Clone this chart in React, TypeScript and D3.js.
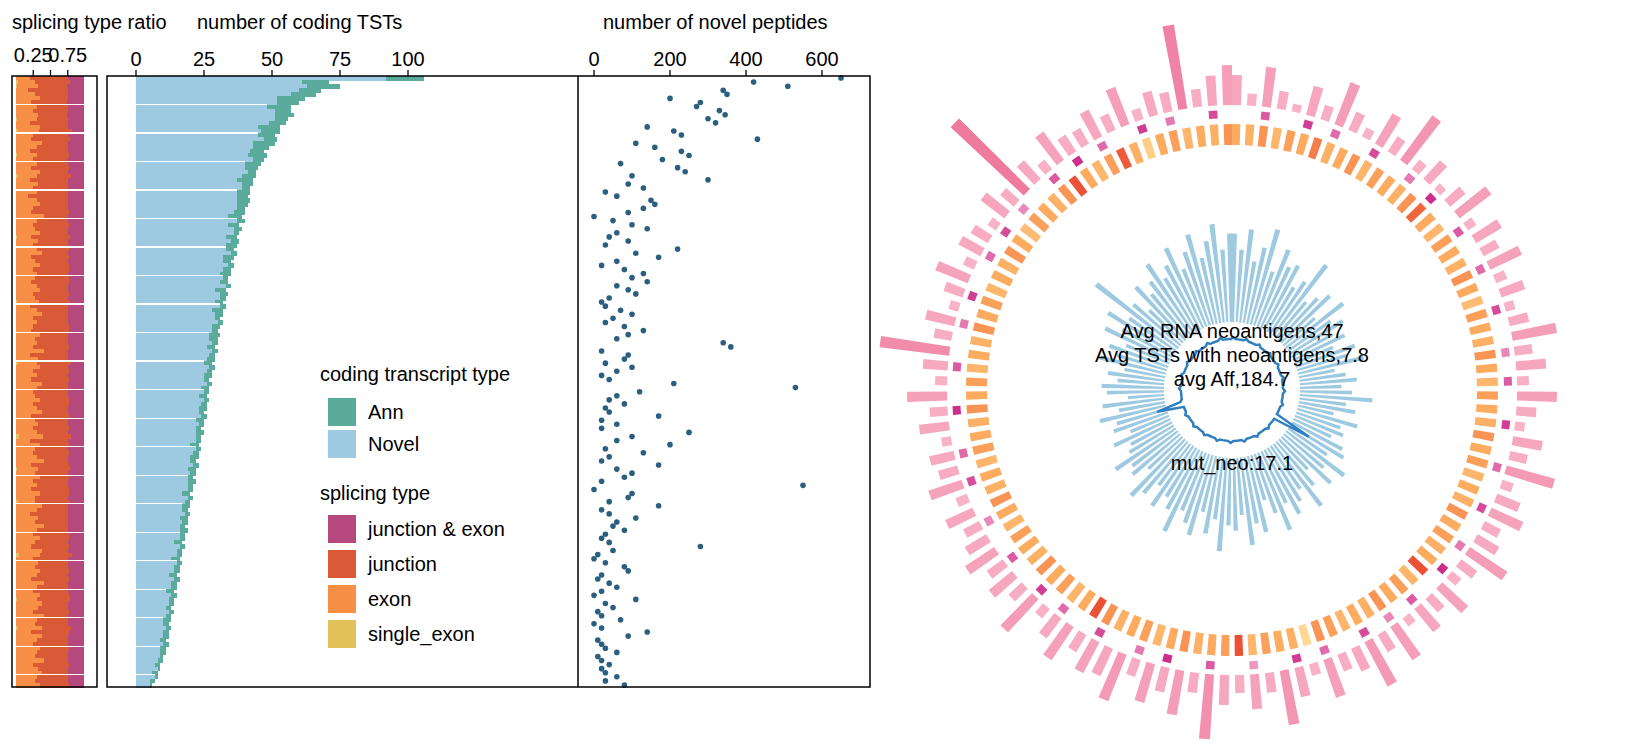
import * as d3 from "d3";

const totals = [
  106, 71, 75, 68, 66, 62, 60, 57, 57, 58,
  56, 55, 53, 53, 51, 52, 51, 49, 47, 48,
  47, 46, 45, 44, 44, 43, 43, 42, 42, 41,
  42, 41, 40, 40, 39, 40, 38, 39, 38, 37,
  38, 37, 36, 37, 36, 35, 36, 35, 35, 34,
  34, 35, 33, 34, 33, 32, 33, 32, 32, 31,
  32, 31, 30, 31, 30, 30, 29, 30, 29, 29,
  28, 29, 28, 28, 27, 28, 27, 27, 26, 27,
  26, 26, 25, 26, 25, 25, 24, 25, 24, 24,
  23, 24, 23, 23, 22, 23, 22, 22, 21, 22,
  21, 21, 20, 21, 20, 20, 19, 20, 19, 19,
  18, 19, 18, 18, 17, 18, 17, 17, 16, 17,
  16, 16, 15, 16, 15, 15, 14, 15, 14, 14,
  13, 14, 13, 13, 12, 13, 12, 12, 11, 12,
  11, 11, 10, 10, 9, 9, 8, 8, 7, 6,
];
const ann = [
  14, 10, 12, 8, 9, 10, 8, 9, 6, 7,
  5, 6, 8, 7, 6, 5, 8, 6, 5, 7,
  4, 6, 5, 3, 5, 6, 4, 3, 5, 4,
  5, 4, 3, 4, 5, 3, 4, 3, 2, 4,
  3, 4, 3, 2, 4, 3, 2, 3, 4, 2,
  3, 2, 4, 3, 2, 3, 2, 4, 3, 2,
  2, 3, 2, 4, 3, 2, 3, 2, 2, 3,
  3, 2, 2, 3, 2, 2, 3, 2, 3, 2,
  2, 3, 2, 2, 3, 2, 2, 3, 2, 2,
  3, 2, 2, 3, 2, 2, 3, 2, 2, 3,
  2, 2, 3, 2, 2, 3, 2, 2, 3, 2,
  2, 3, 2, 2, 3, 2, 2, 2, 3, 2,
  2, 2, 3, 2, 2, 2, 3, 2, 2, 2,
  2, 2, 2, 3, 2, 2, 2, 2, 2, 2,
  2, 2, 1, 2, 2, 1, 2, 1, 2, 1,
];
const peptides = [
  650, 420, 510, 340, 350, 200, 280, 270, 330, 345,
  300, 320, 140, 210, 230, 430, 110, 160, 230, 250,
  180, 70, 220, 240, 100, 300, 90, 130, 30, 60,
  150, 160, 130, 90, 0, 50, 100, 140, 60, 40,
  90, 30, 220, 110, 170, 60, 20, 80, 130, 100,
  140, 60, 90, 110, 40, 20, 30, 70, 100, 50,
  30, 80, 130, 90, 60, 340, 360, 20, 90, 80,
  30, 100, 60, 20, 40, 210, 530, 120, 60, 40,
  80, 30, 40, 170, 20, 60, 20, 250, 100, 60,
  200, 30, 130, 40, 20, 170, 60, 100, 80, 20,
  550, 0, 100, 90, 40, 170, 20, 40, 110, 60,
  50, 80, 30, 20, 40, 280, 50, 10, 0, 30,
  80, 90, 20, 10, 40, 60, 20, 0, 110, 30,
  50, 10, 20, 70, 0, 20, 140, 90, 10, 20,
  30, 60, 10, 20, 40, 20, 30, 60, 30, 80,
];
const exonRatio = [
  .2, .25, .3, .18, .28, .35, .22, .3, .25, .32,
  .28, .2, .35, .3, .25, .22, .38, .3, .2, .28,
  .25, .3, .22, .35, .28, .2, .32, .25, .3, .18,
  .3, .35, .25, .22, .4, .3, .25, .28, .35, .2,
  .32, .25, .3, .38, .22, .28, .35, .25, .3, .27,
  .22, .3, .35, .25, .28, .32, .2, .3, .38, .25,
  .3, .25, .22, .35, .28, .3, .25, .4, .2, .32,
  .28, .35, .25, .3, .22, .38, .3, .25, .28, .35,
  .25, .3, .38, .22, .28, .32, .25, .3, .35, .2,
  .35, .28, .25, .3, .4, .22, .3, .28, .35, .25,
  .3, .22, .35, .28, .25, .38, .3, .2, .32, .28,
  .4, .3, .25, .35, .28, .22, .38, .3, .25, .32,
  .28, .35, .3, .22, .4, .3, .25, .35, .28, .38,
  .32, .25, .4, .3, .28, .35, .22, .38, .3, .25,
  .35, .3, .28, .4, .25, .32, .38, .3, .28, .35,
];
const junctionRatio = [
  .55, .5, .42, .58, .48, .4, .52, .45, .5, .42,
  .45, .55, .4, .48, .5, .56, .38, .45, .55, .47,
  .5, .45, .55, .4, .48, .56, .44, .5, .46, .58,
  .46, .4, .5, .55, .36, .46, .52, .48, .4, .56,
  .44, .5, .47, .38, .55, .48, .42, .52, .46, .5,
  .55, .46, .4, .52, .48, .44, .56, .46, .38, .5,
  .46, .52, .55, .4, .48, .46, .52, .36, .56, .44,
  .48, .4, .52, .46, .55, .38, .46, .5, .48, .42,
  .52, .46, .38, .55, .48, .44, .52, .46, .4, .56,
  .42, .48, .52, .46, .36, .55, .46, .48, .42, .5,
  .46, .55, .42, .48, .5, .38, .46, .56, .44, .48,
  .36, .46, .52, .42, .48, .55, .38, .46, .5, .44,
  .48, .42, .46, .55, .36, .46, .5, .42, .48, .38,
  .44, .52, .36, .46, .48, .42, .55, .38, .46, .5,
  .42, .46, .48, .36, .52, .44, .38, .46, .48, .42,
];
const singleExon: [number, number][] = [
  [1, 0.03], [2, 0.02], [10, 0.02], [13, 0.03], [19, 0.02], [24, 0.03],
  [39, 0.02], [55, 0.02], [70, 0.03], [88, 0.04], [96, 0.02], [104, 0.03],
  [117, 0.05], [128, 0.02], [135, 0.03],
];

const blueLens = [
  85, 70, 90, 60, 75, 95, 55, 80, 65, 70,
  50, 60, 85, 45, 55, 65, 40, 70, 50, 60,
  45, 55, 40, 60, 50, 65, 35, 45, 55, 40,
  50, 70, 45, 55, 35, 60, 45, 50, 40, 55,
  60, 45, 70, 50, 65, 40, 55, 75, 50, 60,
  70, 55, 80, 60, 45, 75, 65, 85, 55, 70,
  65, 90, 60, 75, 55, 80, 70, 60, 85, 65,
  55, 70, 50, 65, 75, 45, 60, 55, 70, 50,
  45, 60, 40, 55, 50, 65, 45, 60, 35, 55,
  60, 45, 55, 40, 65, 50, 60, 45, 70, 55,
  75, 55, 100, 60, 45, 70, 55, 65, 80, 60,
  70, 85, 60, 75, 90, 65, 80, 95, 70, 85,
];
const orangeVals = [
  .5, .45, .6, .4, .55, .5, .7, .45, .5, .6,
  .4, .55, .5, .45, .6, .8, .5, .4, .55, .5,
  .45, .6, .5, .35, .55, .5, .45, .6, .5, .4,
  .55, .5, .45, .6, .5, .55, .4, .5, .45, .6,
  .5, .55, .45, .5, .9, .4, .55, .5, .6, .45,
  .5, .4, .55, .6, .1, .45, .5, .55, .4, .9,
  .55, .5, .45, .6, .5, .4, .55, .5, .45, .6,
  .9, .5, .4, .55, .5, .6, .45, .5, .55, .4,
  .5, .6, .45, .5, .4, .55, .5, .45, .6, .5,
  .55, .4, .5, .45, .6, .5, .55, .4, .5, .45,
  .6, .5, .35, .55, .5, .45, .6, .9, .5, .4,
  .55, .85, .45, .2, .5, .55, .4, .5, .45, .6,
];
const magentaVals = [
  0, 0, .6, 0, 0, .8, 0, .5, 0, 0,
  .7, 0, 0, .4, 0, .9, 0, 0, .6, 0,
  0, .5, 0, 0, .7, 0, 0, .3, 0, .6,
  0, 0, .8, 0, 0, .5, 0, 0, .7, 0,
  0, .4, 0, .9, 0, 0, .6, 0, .3, 0,
  .7, 0, 0, .5, 0, .8, 0, 0, .2, 0,
  0, .6, 0, 0, .9, 0, .4, 0, 0, .7,
  0, 0, .5, 0, .8, 0, 0, .6, 0, 0,
  .3, 0, 0, .7, 0, .5, 0, 0, .9, 0,
  0, .6, 0, 0, .4, 0, .8, 0, 0, .5,
  0, .7, 0, .3, 0, 0, .6, 0, .9, 0,
  .5, 0, 0, .8, 0, .4, 0, 0, .7, 0,
];
const pinkLens = [
  30, 12, 40, 18, 8, 30, 15, 45, 20, 10,
  35, 18, 55, 12, 25, 8, 20, 40, 10, 30,
  18, 35, 12, 25, 10, 20, 45, 18, 30, 12,
  40, 20, 10, 30, 18, 50, 12, 25, 35, 18,
  25, 45, 20, 12, 35, 18, 30, 10, 40, 20,
  50, 25, 18, 40, 12, 30, 55, 20, 35, 18,
  30, 65, 20, 45, 25, 40, 18, 50, 30, 35,
  20, 40, 25, 12, 45, 18, 30, 20, 35, 25,
  18, 30, 12, 35, 20, 25, 10, 30, 18, 40,
  12, 25, 70, 18, 30, 10, 20, 35, 12, 25,
  20, 10, 30, 18, 100, 25, 12, 35, 20, 18,
  30, 18, 40, 12, 25, 20, 85, 18, 30, 40,
];

const centerText = ["Avg RNA neoantigens,47", "Avg TSTs with neoantigens,7.8", "avg Aff,184.7"];
const mutText = "mut_neo:17.1";

const C = {
  ann: "#5aab9c", novel: "#9ecae1", je: "#b5487c", junc: "#d95a37",
  exon: "#f79046", single: "#e2c15a", dot: "#2b5f7f",
};
const font = "'Liberation Sans', Arial, sans-serif";

export default function App() {
  const n = totals.length;
  const rows = d3.range(n);
  const top = 76, bottom = 687;
  const y = d3.scaleBand<number>().domain(rows).range([top, bottom]);
  const xr = d3.scaleLinear().domain([0, 1]).range([16, 85]);
  const xc = d3.scaleLinear().domain([0, 100]).range([136, 408]);
  const xp = d3.scaleLinear().domain([0, 600]).range([594, 822]);
  const seps = rows.filter((i) => i > 0 && i % 7 === 0);

  const cx = 1232, cy = 390;
  const m = blueLens.length;
  const ang = d3.scaleBand<number>().domain(d3.range(m)).range([0, 2 * Math.PI]).paddingInner(0.4);
  const arc = d3.arc<any>();
  const seg = (i: number, r0: number, r1: number) =>
    arc({ innerRadius: r0, outerRadius: r1, startAngle: ang(i)!, endAngle: ang(i)! + ang.bandwidth() }) || "";
  const blueR = d3.scaleLinear().domain([0, 100]).range([68, 172]);
  const pinkR = d3.scaleLinear().domain([0, 100]).range([285, 385]);
  const orangeC = d3.scaleLinear<string>().domain([0, 0.5, 1]).range(["#fee3a0", "#fdab5f", "#e8392a"]);
  const pinkC = d3.scaleLinear<string>().domain([0, 100]).range(["#f9b9ca", "#ee7a9e"]);
  const magC = d3.scaleLinear<string>().domain([0, 1]).range(["#f6b6cf", "#c81f84"]);

  // inner dark-blue radial line
  const lineVals = d3.range(m).map((i) => (i === 40 ? 40 : i === 84 ? 28 : (i % 5 === 0 ? 3 : 1)));
  const radial = d3.lineRadial<number>()
    .angle((_, i) => ang(i)! + ang.bandwidth() / 2)
    .radius((v) => 50 + v)
    .curve(d3.curveLinearClosed);

  const legendT = [
    { label: "Ann", c: C.ann, y: 398 },
    { label: "Novel", c: C.novel, y: 430 },
  ];
  const legendS = [
    { label: "junction & exon", c: C.je, y: 515 },
    { label: "junction", c: C.junc, y: 550 },
    { label: "exon", c: C.exon, y: 585 },
    { label: "single_exon", c: C.single, y: 620 },
  ];

  return (
    <svg width={1633} height={755} style={{ fontFamily: font, position: "absolute", left: 0, top: 0 }}>
      <g shapeRendering="crispEdges">
        {rows.map((i) => {
          const s = singleExon.find((d) => d[0] === i)?.[1] ?? 0;
          const e = exonRatio[i], j = junctionRatio[i];
          const je = Math.max(0, 0.985 - s - e - j);
          const h = y.bandwidth() + 0.5;
          return (
            <g key={i}>
              <rect x={xr(0)} y={y(i)} width={xr(s) - xr(0)} height={h} fill={C.single} />
              <rect x={xr(s)} y={y(i)} width={xr(s + e) - xr(s)} height={h} fill={C.exon} />
              <rect x={xr(s + e)} y={y(i)} width={xr(s + e + j) - xr(s + e)} height={h} fill={C.junc} />
              <rect x={xr(s + e + j)} y={y(i)} width={xr(s + e + j + je) - xr(s + e + j)} height={h} fill={C.je} />
            </g>
          );
        })}
        {rows.map((i) => {
          const nv = totals[i] - ann[i];
          const h = y.bandwidth() + 0.5;
          return (
            <g key={i}>
              <rect x={xc(0)} y={y(i)} width={xc(nv) - xc(0)} height={h} fill={C.novel} />
              <rect x={xc(nv)} y={y(i)} width={xc(totals[i]) - xc(nv)} height={h} fill={C.ann} />
            </g>
          );
        })}
        {seps.map((i) => (
          <g key={i}>
            <line x1={xr(0)} x2={xr(1)} y1={y(i)} y2={y(i)} stroke="#fff" strokeWidth={1.3} />
            <line x1={xc(0)} x2={xc(totals[i] - ann[i])} y1={y(i)} y2={y(i)} stroke="#fff" strokeWidth={1.3} />
          </g>
        ))}
      </g>
      {rows.map((i) => (
        <circle key={i} cx={xp(peptides[i])} cy={y(i)! + y.bandwidth() / 2} r={2.8} fill={C.dot} />
      ))}
      <rect x={12} y={top} width={85} height={bottom - top} fill="none" stroke="#000" strokeWidth={1.5} />
      <rect x={107} y={top} width={763} height={bottom - top} fill="none" stroke="#000" strokeWidth={1.5} />
      <line x1={578} x2={578} y1={top} y2={bottom} stroke="#000" strokeWidth={1.5} />
      {[0.25, 0.5, 0.75].map((t) => (
        <line key={t} x1={xr(t)} x2={xr(t)} y1={top - 6} y2={top} stroke="#000" strokeWidth={1.3} />
      ))}
      {[0.25, 0.75].map((t) => (
        <text key={t} x={xr(t)} y={top - 14} fontSize={20} textAnchor="middle">{t}</text>
      ))}
      {[0, 25, 50, 75, 100].map((t) => (
        <g key={t}>
          <line x1={xc(t)} x2={xc(t)} y1={top - 6} y2={top} stroke="#000" strokeWidth={1.3} />
          <text x={xc(t)} y={top - 10} fontSize={20} textAnchor="middle">{t}</text>
        </g>
      ))}
      {[0, 200, 400, 600].map((t) => (
        <g key={t}>
          <line x1={xp(t)} x2={xp(t)} y1={top - 6} y2={top} stroke="#000" strokeWidth={1.3} />
          <text x={xp(t)} y={top - 10} fontSize={20} textAnchor="middle">{t}</text>
        </g>
      ))}
      <text x={12} y={29} fontSize={20}>splicing type ratio</text>
      <text x={197} y={29} fontSize={20}>number of coding TSTs</text>
      <text x={603} y={29} fontSize={20}>number of novel peptides</text>
      <text x={320} y={381} fontSize={20}>coding transcript type</text>
      {legendT.map((d) => (
        <g key={d.label}>
          <rect x={328} y={d.y} width={28} height={28} fill={d.c} />
          <text x={368} y={d.y + 21} fontSize={20}>{d.label}</text>
        </g>
      ))}
      <text x={320} y={500} fontSize={20}>splicing type</text>
      {legendS.map((d) => (
        <g key={d.label}>
          <rect x={328} y={d.y} width={28} height={28} fill={d.c} />
          <text x={368} y={d.y + 21} fontSize={20}>{d.label}</text>
        </g>
      ))}
      <g transform={`translate(${cx},${cy})`}>
        {d3.range(m).map((i) => (
          <g key={i}>
            <path d={seg(i, blueR(0), blueR(blueLens[i]))} fill={C.novel} />
            <path d={seg(i, 245, 266)} fill={orangeC(orangeVals[i])} />
            {magentaVals[i] > 0 && <path d={seg(i, 272, 280)} fill={magC(magentaVals[i])} />}
            <path d={seg(i, pinkR(0), pinkR(pinkLens[i]))} fill={pinkC(pinkLens[i])} />
          </g>
        ))}
        <path d={radial(lineVals) || ""} fill="none" stroke="#2f7fc1" strokeWidth={2.5} />
        {centerText.map((t, k) => (
          <text key={t} x={0} y={-52 + k * 24} fontSize={20} textAnchor="middle">{t}</text>
        ))}
        <text x={0} y={80} fontSize={20} textAnchor="middle">{mutText}</text>
      </g>
    </svg>
  );
}
